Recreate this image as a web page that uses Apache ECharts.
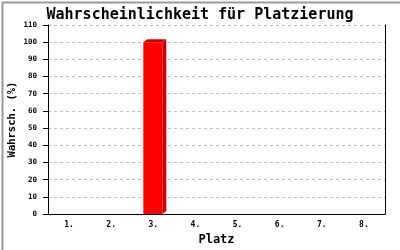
<!DOCTYPE html>
<html><head><meta charset="utf-8">
<script src="https://cdn.jsdelivr.net/npm/echarts@6/dist/echarts.min.js"></script>
<style>html,body{margin:0;padding:0;background:#fff}#c{width:400px;height:250px}</style>
</head><body><div id="c"></div>
<script>
const titleText = 'Wahrscheinlichkeit für Platzierung';
const categories = ['1.', '2.', '3.', '4.', '5.', '6.', '7.', '8.'];
const values = [0, 0, 100, 0, 0, 0, 0, 0];
const xName = 'Platz';
const yName = 'Wahrsch. (%)';

const FONT = '"DejaVu Sans Mono", "Liberation Mono", monospace';
const chart = echarts.init(document.getElementById('c'), null, {renderer: 'canvas'});
chart.setOption({
  animation: false,
  backgroundColor: '#fff',
  title: {
    text: titleText, left: 'center', top: 3,
    textStyle: {fontFamily: FONT, fontSize: 15, fontWeight: 'bold', color: '#000'}
  },
  graphic: [{
    type: 'rect', left: 0, top: 0, z: 100, silent: true,
    shape: {x: 0, y: 0, width: 399, height: 249},
    style: {fill: 'none', stroke: '#999', lineWidth: 2}
  }],
  grid: {left: 48, right: 15, top: 25, bottom: 36, containLabel: false, outerBoundsMode: 'none'},
  xAxis: {
    type: 'category', data: categories,
    name: xName, nameLocation: 'middle', nameGap: 20, nameMoveOverlap: false,
    nameTextStyle: {fontFamily: FONT, fontSize: 12, fontWeight: 'bold', color: '#000'},
    axisLine: {lineStyle: {color: '#000', width: 1}},
    axisTick: {show: false},
    axisLabel: {fontFamily: FONT, fontSize: 8, fontWeight: 'bold', color: '#000', margin: 7},
    splitLine: {show: false}
  },
  yAxis: [{
    type: 'value', min: 0, max: 110, interval: 10,
    name: yName, nameLocation: 'middle', nameGap: 30, nameRotate: 90, nameMoveOverlap: false,
    nameTextStyle: {fontFamily: FONT, fontSize: 10.5, fontWeight: 'bold', color: '#000'},
    axisLine: {show: true, lineStyle: {color: '#000', width: 1}},
    axisTick: {show: true, length: 5, lineStyle: {color: '#000'}},
    axisLabel: {fontFamily: FONT, fontSize: 7.5, fontWeight: 'bold', color: '#000', margin: 11},
    splitLine: {show: true, lineStyle: {color: '#bbb', type: [3, 3], width: 1}}
  }, {
    type: 'value', min: 0, max: 110, interval: 10, position: 'right',
    axisLine: {show: true, lineStyle: {color: '#000', width: 1}},
    axisTick: {show: false}, axisLabel: {show: false}, splitLine: {show: false}
  }],
  series: [{
    type: 'custom',
    data: values.map((v, i) => [i, v]),
    encode: {x: 0, y: 1},
    renderItem: function (params, api) {
      const v = api.value(1);
      if (!v) return null;
      const base = api.coord([api.value(0), 0]);
      const top = api.coord([api.value(0), v]);
      const w = 19, d = 4, h = 3;
      const x = base[0] - 10;
      return {
        type: 'group',
        children: [
          {type: 'polygon', shape: {points: [[x + w, top[1]], [x + w + d, top[1] - h], [x + w + d, base[1] - h], [x + w, base[1]]]}, style: {fill: '#cc0000'}},
          {type: 'polygon', shape: {points: [[x, top[1]], [x + d, top[1] - h], [x + w + d, top[1] - h], [x + w, top[1]]]}, style: {fill: '#cc0000'}},
          {type: 'rect', shape: {x: x, y: top[1], width: w, height: base[1] - top[1]}, style: {fill: '#ff0000'}}
        ]
      };
    }
  }]
});
</script></body></html>
